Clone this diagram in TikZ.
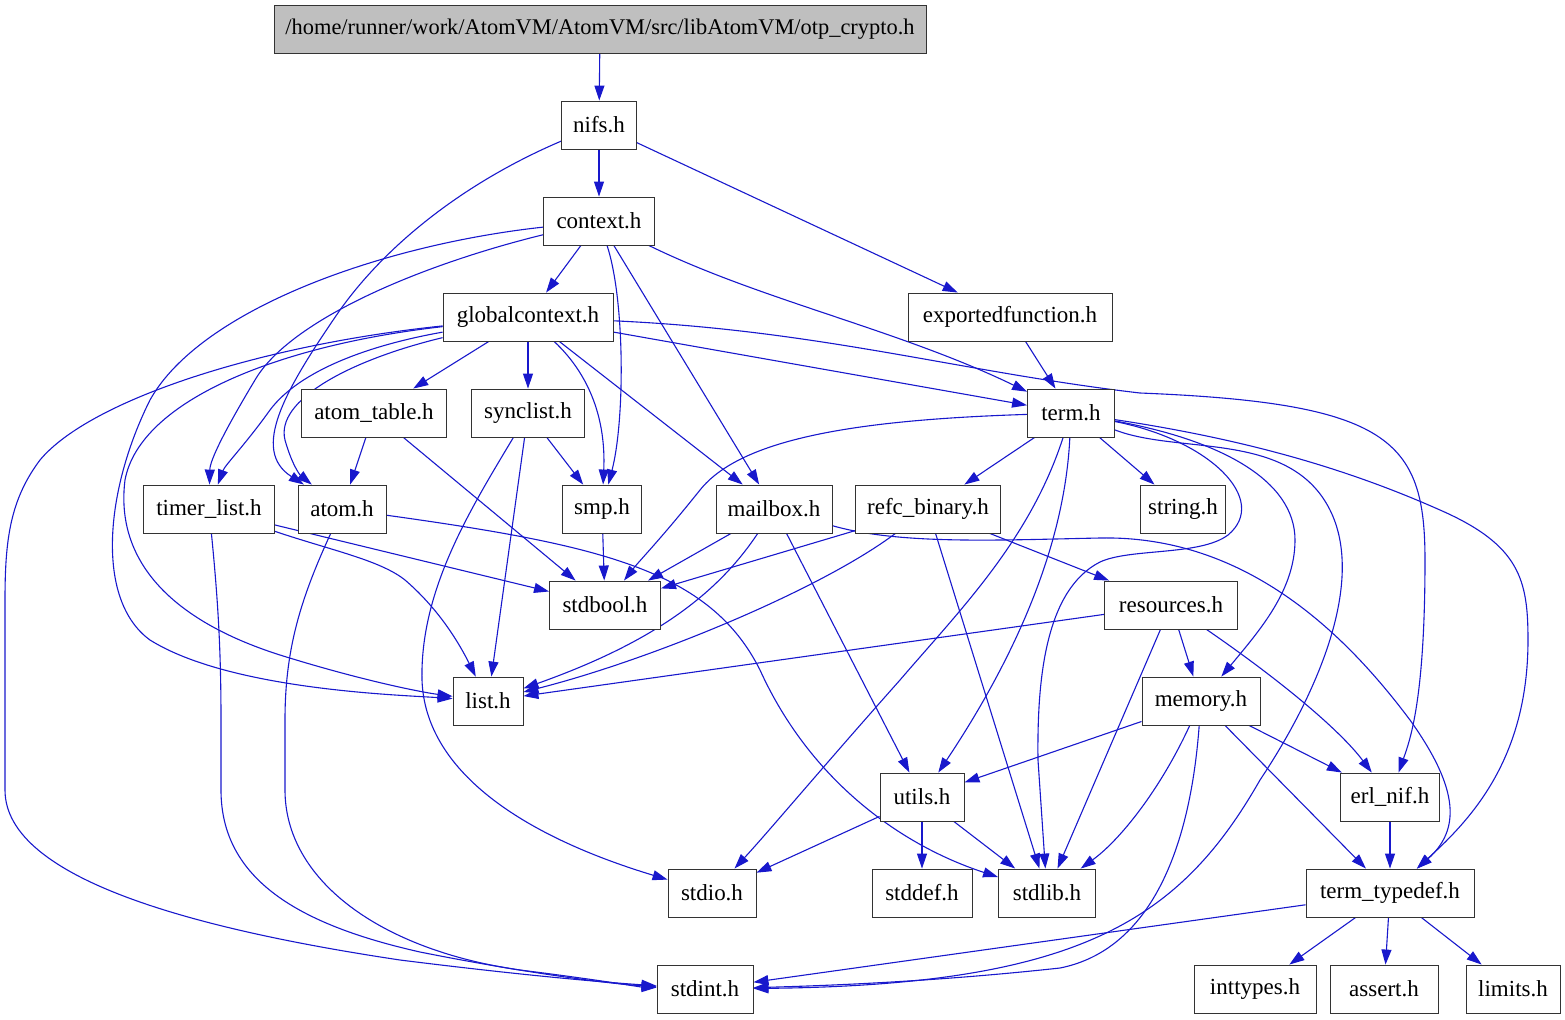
\documentclass[tikz,border=0pt]{standalone}
\usepackage{fontspec}
\setmainfont{Liberation Serif}
\usepackage{xcolor}
\usepackage{tikz}
\usetikzlibrary{arrows.meta,backgrounds}
\definecolor{edgeblue}{RGB}{24,24,204}
\definecolor{rootgray}{RGB}{191,191,191}

\begin{document}
\begin{tikzpicture}[
    x=0.5pt, y=-0.5pt,
    box/.style={rectangle, draw=black!80, line width=0.45pt, fill=white, minimum height=24pt, inner xsep=2pt, inner ysep=0pt, font=\fontsize{11.5}{13}\selectfont},
    arrow/.style={-{Triangle[length=7.5pt,width=5pt]}, edgeblue, line width=0.55pt}
  ]
    \useasboundingbox (0,0) rectangle (1565,1019);

    \node[box, fill=rootgray, minimum width=326pt, font=\fontsize{11.2}{13}\selectfont] (crypto) at (600,29) {/home/runner/work/AtomVM/AtomVM/src/libAtomVM/otp\_crypto.h};
    \node[box, minimum width=37.5pt] (nifs) at (599,125) {nifs.h};
    \node[box, minimum width=55.5pt] (context) at (599,221) {context.h};
    \node[box, minimum width=85pt] (glob) at (528,317) {globalcontext.h};
    \node[box, minimum width=102pt] (exported) at (1010,317) {exportedfunction.h};
    \node[box, minimum width=72.5pt] (atomtab) at (374,413) {atom\_table.h};
    \node[box, minimum width=56.5pt] (synclist) at (528,413) {synclist.h};
    \node[box, minimum width=43.5pt] (term) at (1071,413) {term.h};
    \node[box, minimum width=65.5pt] (timerlist) at (209,509) {timer\_list.h};
    \node[box, minimum width=44pt] (atom) at (342,509) {atom.h};
    \node[box, minimum width=39.5pt] (smp) at (602,509) {smp.h};
    \node[box, minimum width=58pt] (mailbox) at (774,509) {mailbox.h};
    \node[box, minimum width=72.5pt] (refc) at (928,509) {refc\_binary.h};
    \node[box, minimum width=42.5pt] (string) at (1183,509) {string.h};
    \node[box, minimum width=55.5pt] (stdbool) at (605,605) {stdbool.h};
    \node[box, minimum width=66.5pt] (resources) at (1171,605) {resources.h};
    \node[box, minimum width=35pt] (list) at (488,701) {list.h};
    \node[box, minimum width=59pt] (memory) at (1201,701) {memory.h};
    \node[box, minimum width=42pt] (utils) at (922,797) {utils.h};
    \node[box, minimum width=49.5pt] (erlnif) at (1390,797) {erl\_nif.h};
    \node[box, minimum width=44pt] (stdio) at (712,893) {stdio.h};
    \node[box, minimum width=50pt] (stddef) at (922,893) {stddef.h};
    \node[box, minimum width=48.5pt] (stdlib) at (1047,893) {stdlib.h};
    \node[box, minimum width=84pt] (termtd) at (1390,893) {term\_typedef.h};
    \node[box, minimum width=48pt] (stdint) at (705,989) {stdint.h};
    \node[box, minimum width=61pt] (inttypes) at (1255,989) {inttypes.h};
    \node[box, minimum width=54pt] (assert) at (1384,989) {assert.h};
    \node[box, minimum width=47pt] (limits) at (1513,989) {limits.h};

    \begin{scope}[on background layer]
    % top of the graph
    \draw[arrow] (crypto) -- (nifs);
    \draw[arrow] (nifs) -- (context);
    \draw[arrow] (nifs) -- (exported);
    \draw[arrow] (nifs) .. controls (470,180) and (390,240) .. (340,310) .. controls (285,390) and (250,450) .. (atom);
    \draw[arrow] (context) -- (glob);
    \draw[arrow] (context) .. controls (420,265) and (290,320) .. (255,380) .. controls (225,430) and (210,460) .. (timerlist);
    \draw[arrow] (context) .. controls (380,245) and (200,310) .. (150,400) .. controls (105,490) and (95,600) .. (150,640) .. controls (230,690) and (400,695) .. (list);
    \draw[arrow] (context) .. controls (625,300) and (625,420) .. (smp);
    \draw[arrow] (context) -- (mailbox);
    \draw[arrow] (context) .. controls (760,300) and (900,330) .. (term);
    \draw[arrow] (exported) -- (term);

    % globalcontext.h
    \draw[arrow] (glob) -- (atomtab);
    \draw[arrow] (glob) -- (synclist);
    \draw[arrow] (glob) .. controls (590,375) and (606,420) .. (smp);
    \draw[arrow] (glob) -- (mailbox);
    \draw[arrow] (glob) -- (term);
    \draw[arrow] (glob) .. controls (820,330) and (960,372) .. (1140,393) .. controls (1390,403) and (1425,440) .. (1425,560) .. controls (1425,700) and (1410,740) .. (erlnif);
    \draw[arrow] (glob) .. controls (370,345) and (300,370) .. (270,410) .. controls (245,445) and (225,465) .. (timerlist);
    \draw[arrow] (glob) .. controls (350,360) and (275,400) .. (285,440) .. controls (292,465) and (300,475) .. (atom);
    \draw[arrow] (glob) .. controls (280,345) and (140,400) .. (125,480) .. controls (115,560) and (170,620) .. (280,655) .. controls (360,680) and (420,692) .. (list);
    \draw[arrow] (glob) .. controls (260,345) and (90,400) .. (40,460) .. controls (10,500) and (5,540) .. (5,600) -- (5,790) .. controls (5,880) and (200,930) .. (400,960) .. controls (520,975) and (600,982) .. (stdint);

    % middle rows
    \draw[arrow] (atomtab) -- (atom);
    \draw[arrow] (atomtab) -- (stdbool);
    \draw[arrow] (synclist) -- (smp);
    \draw[arrow] (synclist) -- (list);
    \draw[arrow] (synclist) .. controls (470,510) and (420,590) .. (422,680) .. controls (425,770) and (520,835) .. (stdio);
    \draw[arrow] (timerlist) -- (stdbool);
    \draw[arrow] (timerlist) .. controls (330,550) and (380,560) .. (405,580) .. controls (440,610) and (460,645) .. (list);
    \draw[arrow] (timerlist) .. controls (218,600) and (221,650) .. (221,720) -- (221,790) .. controls (221,880) and (300,925) .. (420,952) .. controls (520,972) and (610,984) .. (stdint);
    \draw[arrow] (atom) .. controls (300,600) and (285,650) .. (285,720) -- (285,790) .. controls (285,880) and (380,950) .. (520,970) .. controls (600,980) and (640,987) .. (stdint);
    \draw[arrow] (atom) .. controls (600,545) and (710,570) .. (760,670) .. controls (810,780) and (900,845) .. (stdlib);
    \draw[arrow] (smp) -- (stdbool);
    \draw[arrow] (mailbox) -- (stdbool);
    \draw[arrow] (mailbox) .. controls (720,590) and (660,640) .. (list);
    \draw[arrow] (mailbox) -- (utils);
    \draw[arrow] (mailbox) .. controls (900,545) and (1000,540) .. (1100,538) .. controls (1250,535) and (1350,640) .. (1410,720) .. controls (1460,790) and (1460,830) .. (termtd);

    % term.h
    \draw[arrow] (term) .. controls (850,420) and (740,440) .. (700,490) .. controls (660,540) and (640,560) .. (stdbool);
    \draw[arrow] (term) -- (refc);
    \draw[arrow] (term) -- (string);
    \draw[arrow] (term) .. controls (1030,540) and (960,610) .. (900,680) .. controls (820,770) and (770,830) .. (stdio);
    \draw[arrow] (term) .. controls (1065,540) and (1020,650) .. (utils);
    \draw[arrow] (term) .. controls (1210,440) and (1270,500) .. (1228,535) .. controls (1200,556) and (1130,548) .. (1100,562) .. controls (1045,590) and (1037,680) .. (1038,760) -- (stdlib);
    \draw[arrow] (term) .. controls (1220,440) and (1295,480) .. (1295,540) .. controls (1295,590) and (1260,630) .. (memory);
    \draw[arrow] (term) .. controls (1180,455) and (1290,430) .. (1330,510) .. controls (1365,580) and (1320,690) .. (1260,780) .. controls (1180,920) and (1080,985) .. (stdint);
    \draw[arrow] (term) .. controls (1250,440) and (1350,470) .. (1440,510) .. controls (1520,545) and (1528,580) .. (1528,640) .. controls (1528,760) and (1470,820) .. (termtd);

    % refc_binary.h, resources.h, memory.h
    \draw[arrow] (refc) -- (stdbool);
    \draw[arrow] (refc) .. controls (820,590) and (650,660) .. (list);
    \draw[arrow] (refc) -- (resources);
    \draw[arrow] (refc) -- (stdlib);
    \draw[arrow] (resources) -- (list);
    \draw[arrow] (resources) -- (memory);
    \draw[arrow] (resources) -- (stdlib);
    \draw[arrow] (resources) .. controls (1280,680) and (1340,730) .. (erlnif);
    \draw[arrow] (memory) -- (utils);
    \draw[arrow] (memory) -- (erlnif);
    \draw[arrow] (memory) .. controls (1160,790) and (1120,840) .. (stdlib);
    \draw[arrow] (memory) .. controls (1190,850) and (1150,950) .. (1060,968) .. controls (950,980) and (850,985) .. (stdint);
    \draw[arrow] (memory) -- (termtd);

    % bottom rows
    \draw[arrow] (utils) -- (stdio);
    \draw[arrow] (utils) -- (stddef);
    \draw[arrow] (utils) -- (stdlib);
    \draw[arrow] (erlnif) -- (termtd);
    \draw[arrow] (termtd) -- (stdint);
    \draw[arrow] (termtd) -- (inttypes);
    \draw[arrow] (termtd) -- (assert);
    \draw[arrow] (termtd) -- (limits);
    \end{scope}
\end{tikzpicture}
\end{document}
